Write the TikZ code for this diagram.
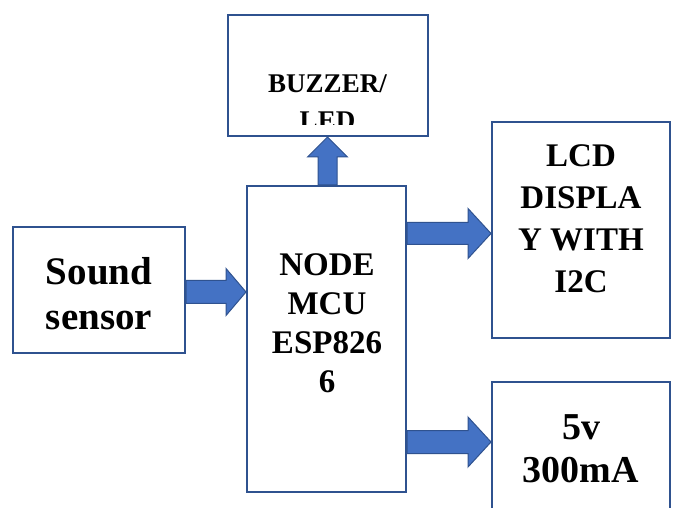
\documentclass[tikz,border=0pt]{standalone}
\usepackage{fontspec}
\setmainfont{Liberation Serif}
\usetikzlibrary{calc}
\definecolor{boxblue}{HTML}{2F528F}
\definecolor{arrowfill}{HTML}{4472C4}
% horizontal block arrow: start, end, head length, half shaft, half head
\newcommand\harrowblk[5]{%
  \draw[barrow] ($(#1)+(0,-#4)$) -- ($(#2)+(-#3,-#4)$) -- ($(#2)+(-#3,-#5)$) -- (#2)
    -- ($(#2)+(-#3,#5)$) -- ($(#2)+(-#3,#4)$) -- ($(#1)+(0,#4)$) -- cycle;}
% vertical (upward) block arrow
\newcommand\uarrowblk[5]{%
  \draw[barrow] ($(#1)+(-#4,0)$) -- ($(#2)+(-#4,#3)$) -- ($(#2)+(-#5,#3)$) -- (#2)
    -- ($(#2)+(#5,#3)$) -- ($(#2)+(#4,#3)$) -- ($(#1)+(#4,0)$) -- cycle;}
\begin{document}
\begin{tikzpicture}[x=1pt,y=-1pt,
  blk/.style={draw=boxblue, line width=2pt, fill=white, inner sep=0pt},
  txt/.style={align=center, inner sep=0pt, text=black},
  barrow/.style={draw=boxblue, fill=arrowfill, line width=1pt, line join=miter}]
\clip (0,0) rectangle (673,508);
\fill[white] (0,0) rectangle (673,508);

% boxes
\node[blk, minimum width=200pt, minimum height=121pt] (buzzer) at (327.5,75.5) {};
\node[blk, minimum width=172pt, minimum height=126pt] (sound) at (99,290) {};
\node[blk, minimum width=159pt, minimum height=306pt] (mcu) at (326.5,339) {};
\node[blk, minimum width=178pt, minimum height=216pt] (lcd) at (581,230) {};
\node[blk, minimum width=178pt, minimum height=156pt] (power) at (581,460) {};

% texts
\begin{scope}
  \clip (230,17) rectangle (426,125);
  \node[txt, font=\fontsize{27}{37}\selectfont\bfseries] (buzzertext) at (327.5,102) {BUZZER/\\LED};
\end{scope}
\node[txt, font=\fontsize{39}{45}\selectfont\bfseries] (soundtext) at (99,294) {Sound\\sensor};
\node[txt, font=\fontsize{33}{39}\selectfont\bfseries] (mcutext) at (327,323) {NODE\\MCU\\ESP826\\6};
\node[txt, font=\fontsize{33}{42}\selectfont\bfseries] (lcdtext) at (581,219) {LCD\\DISPLA\\Y WITH\\I2C};
\node[txt, font=\fontsize{38}{43}\selectfont\bfseries] (powertext) at (581,449) {5v\\300mA};

% arrows
\path (sound.east) ++(0,2) coordinate (a1s);
\coordinate (a1e) at (mcu.west |- a1s);
\harrowblk{a1s}{a1e}{20}{11.5}{23.5}

\path (mcu.north) ++(1,0) coordinate (a2s);
\coordinate (a2e) at (buzzer.south -| a2s);
\uarrowblk{a2s}{a2e}{20}{9.5}{20}

\path (lcd.west) ++(0,3.5) coordinate (a3e);
\coordinate (a3s) at (mcu.east |- a3e);
\harrowblk{a3s}{a3e}{23}{11}{25}

\path (power.west) ++(0,-18) coordinate (a4e);
\coordinate (a4s) at (mcu.east |- a4e);
\harrowblk{a4s}{a4e}{23}{11.5}{25}
\end{tikzpicture}
\end{document}
